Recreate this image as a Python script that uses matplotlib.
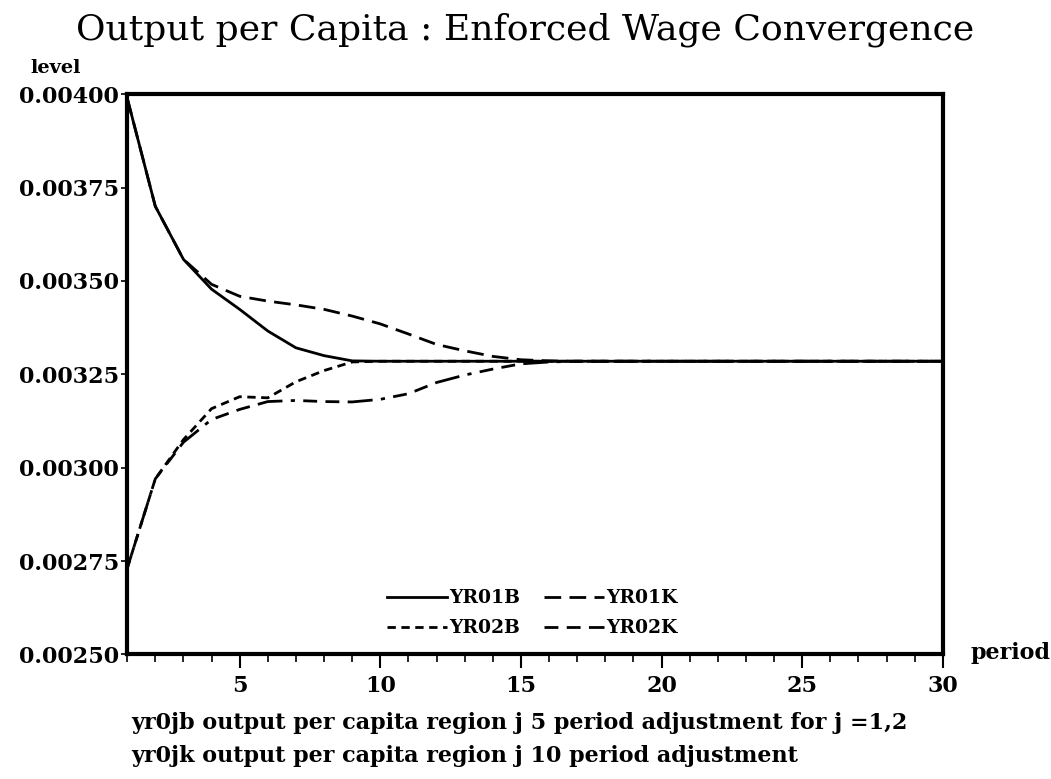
import matplotlib
matplotlib.use("Agg")
import matplotlib.pyplot as plt
from matplotlib.ticker import MultipleLocator, FormatStrFormatter

# ---------- DATA ----------
periods = list(range(1, 31))

yr01b = [0.00399, 0.00370, 0.003558, 0.003478, 0.003424, 0.003366, 0.003321, 0.003300,
         0.003286, 0.003285, 0.003285, 0.003285, 0.003285, 0.003285, 0.003285, 0.003285,
         0.003285, 0.003285, 0.003285, 0.003285, 0.003285, 0.003285, 0.003285, 0.003285,
         0.003285, 0.003285, 0.003285, 0.003285, 0.003285, 0.003285]
yr01k = [0.00399, 0.00370, 0.003558, 0.003491, 0.003459, 0.003446, 0.003436, 0.003424,
         0.003406, 0.003385, 0.003358, 0.003330, 0.003313, 0.003298, 0.003289, 0.003286,
         0.003285, 0.003285, 0.003285, 0.003285, 0.003285, 0.003285, 0.003285, 0.003285,
         0.003285, 0.003285, 0.003285, 0.003285, 0.003285, 0.003285]
yr02b = [0.00273, 0.00297, 0.003075, 0.003158, 0.003190, 0.003187, 0.003230, 0.003260,
         0.003283, 0.003285, 0.003285, 0.003285, 0.003285, 0.003285, 0.003285, 0.003285,
         0.003285, 0.003285, 0.003285, 0.003285, 0.003285, 0.003285, 0.003285, 0.003285,
         0.003285, 0.003285, 0.003285, 0.003285, 0.003285, 0.003285]
yr02k = [0.00273, 0.00297, 0.003068, 0.003129, 0.003156, 0.003177, 0.003180, 0.003177,
         0.003176, 0.003183, 0.003198, 0.003228, 0.003248, 0.003264, 0.003278, 0.003283,
         0.003285, 0.003285, 0.003285, 0.003285, 0.003285, 0.003285, 0.003285, 0.003285,
         0.003285, 0.003285, 0.003285, 0.003285, 0.003285, 0.003285]

title = "Output per Capita : Enforced Wage Convergence"
notes = ["yr0jb output per capita region j 5 period adjustment for j =1,2",
         "yr0jk output per capita region j 10 period adjustment"]

# ---------- PLOT ----------
FONT = "DejaVu Serif"
fig = plt.figure(figsize=(10.51, 7.79), dpi=100)
ax = fig.add_axes([0.121, 0.160, 0.776, 0.719])

lw = 2.0
l1, = ax.plot(periods, yr01b, color="black", lw=lw, linestyle="-", label="YR01B")
l2, = ax.plot(periods, yr01k, color="black", lw=lw, linestyle=(0, (6, 3)), label="YR01K")
l3, = ax.plot(periods, yr02b, color="black", lw=lw, linestyle=(0, (3, 2)), label="YR02B")
l4, = ax.plot(periods, yr02k, color="black", lw=lw,
              linestyle=(0, (5, 3, 5, 3, 9, 3, 1.5, 3)), label="YR02K")

ax.set_xlim(1, 30)
ax.set_ylim(0.0025, 0.0040)
ax.xaxis.set_major_locator(MultipleLocator(5))
ax.xaxis.set_minor_locator(MultipleLocator(1))
ax.yaxis.set_major_locator(MultipleLocator(0.00025))
ax.yaxis.set_major_formatter(FormatStrFormatter("%.5f"))

for s in ax.spines.values():
    s.set_linewidth(3.0)
ax.tick_params(axis="x", which="major", direction="out", length=10, width=1.5, pad=5)
ax.tick_params(axis="x", which="minor", direction="out", length=6, width=1.2)
ax.tick_params(axis="y", direction="out", length=4, width=1.2, pad=2)
for lab in ax.get_xticklabels() + ax.get_yticklabels():
    lab.set_fontfamily(FONT)
    lab.set_fontweight("bold")
    lab.set_fontsize(16)

# column-major fill so rows read YR01B YR01K / YR02B YR02K
ax.legend([l1, l3, l2, l4], ["YR01B", "YR02B", "YR01K", "YR02K"],
          loc="lower center", bbox_to_anchor=(0.497, 0.0), ncol=2, frameon=False,
          handlelength=3.2, handletextpad=0.1, columnspacing=1.3, labelspacing=0.65,
          prop={"family": FONT, "weight": "bold", "size": 13.5})

fig.text(0.5, 0.962, title, ha="center", va="center", fontfamily=FONT, fontsize=26)
fig.text(0.029, 0.913, "level", ha="left", va="center", fontfamily=FONT,
         fontweight="bold", fontsize=14)
fig.text(0.923, 0.162, "period", ha="left", va="center", fontfamily=FONT,
         fontweight="bold", fontsize=16)
fig.text(0.125, 0.072, notes[0], ha="left", va="center", fontfamily=FONT,
         fontweight="bold", fontsize=16)
fig.text(0.125, 0.030, notes[1], ha="left", va="center", fontfamily=FONT,
         fontweight="bold", fontsize=16)

fig.savefig("out.png", dpi=100)
